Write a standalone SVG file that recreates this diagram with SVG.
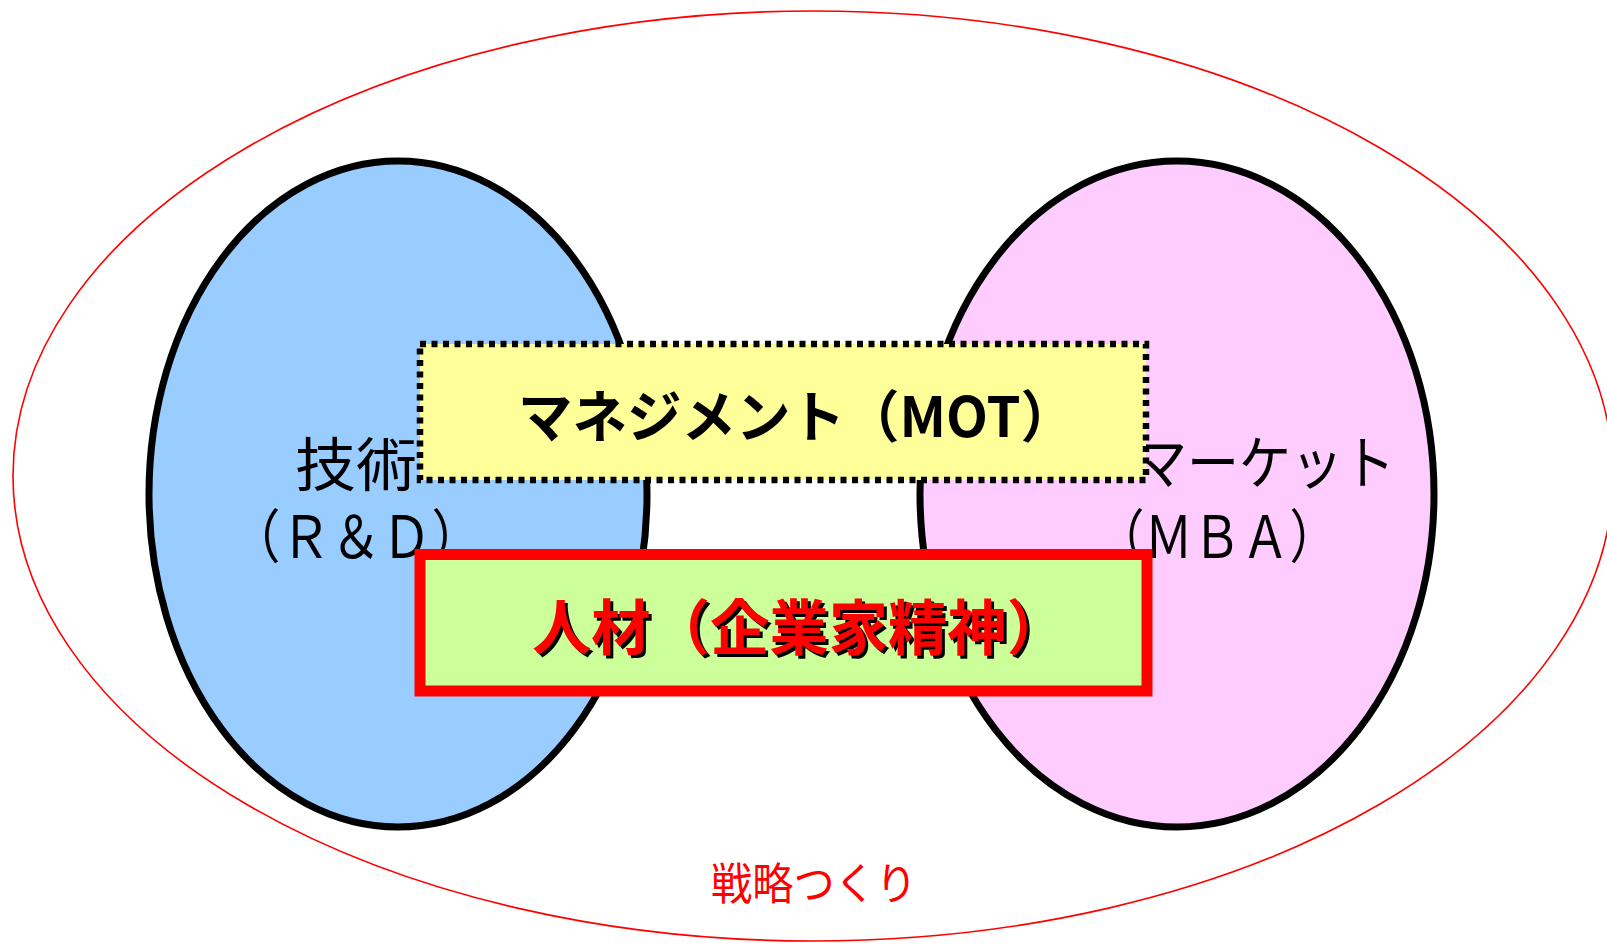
<svg xmlns="http://www.w3.org/2000/svg" width="1607" height="945" viewBox="0 0 1607 945">
<style>
.t{font-family:"Noto Sans CJK JP","Noto Sans",sans-serif}
.lbl{font-size:58px;fill:#000}
.ell{stroke:#000;stroke-width:7}
</style>
<rect x="0" y="0" width="1607" height="945" fill="#fff"/>
<g id="strategy">
<ellipse cx="813" cy="476" rx="800" ry="465" fill="none" stroke="#ff0000" stroke-width="1.6"/>
<text class="t" x="814" y="900" font-size="44" fill="#ff0000" text-anchor="middle" textLength="206" lengthAdjust="spacingAndGlyphs">戦略つくり</text>
</g>
<g id="tech">
<ellipse class="ell" cx="398" cy="494" rx="249" ry="333" fill="#99ccff"/>
<text class="t lbl" x="295" y="486" textLength="122" lengthAdjust="spacingAndGlyphs">技術</text>
<text class="t lbl" x="230" y="558" font-size="55" textLength="252" lengthAdjust="spacingAndGlyphs">（Ｒ＆Ｄ）</text>
</g>
<g id="market">
<ellipse class="ell" cx="1177" cy="494" rx="257" ry="333" fill="#ffccff"/>
<text class="t lbl" x="1135" y="484" textLength="260" lengthAdjust="spacingAndGlyphs">マーケット</text>
<text class="t lbl" x="1096" y="558" font-size="55" textLength="242" lengthAdjust="spacingAndGlyphs">（ＭＢＡ）</text>
</g>
<g id="management">
<rect x="420" y="344" width="726" height="136" fill="#ffff99" stroke="#000" stroke-width="6.5" stroke-dasharray="6 5.5"/>
<text class="t" x="518" y="437" font-size="56" font-weight="bold" fill="#000" textLength="557" lengthAdjust="spacingAndGlyphs">マネジメント（MOT）</text>
</g>
<g id="people">
<rect x="420" y="554.5" width="727" height="136.5" fill="#ccff99" stroke="#ff0000" stroke-width="11"/>
<text class="t" x="535" y="653" font-size="60" font-weight="bold" fill="#000" textLength="534" lengthAdjust="spacingAndGlyphs">人材（企業家精神）</text>
<text class="t" x="532" y="650" font-size="60" font-weight="bold" fill="#ff0000" textLength="534" lengthAdjust="spacingAndGlyphs">人材（企業家精神）</text>
</g>
<g id="connectors"></g>
</svg>
